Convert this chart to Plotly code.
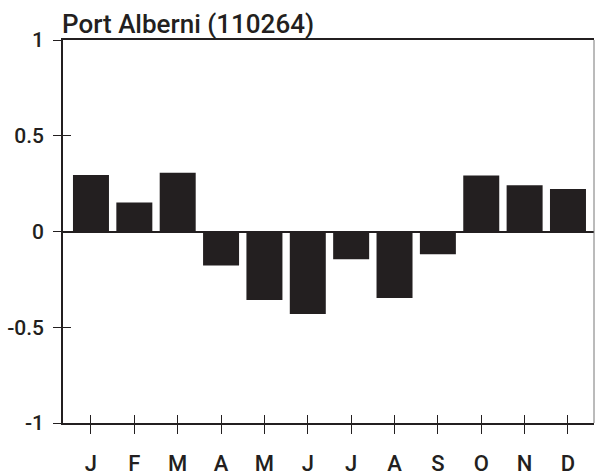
import plotly.graph_objects as go

months = ["J", "F", "M", "A", "M", "J", "J", "A", "S", "O", "N", "D"]
values = [0.295, 0.152, 0.307, -0.178, -0.358, -0.431, -0.145, -0.347, -0.119, 0.293, 0.241, 0.222]
y_ticks = [-1, -0.5, 0, 0.5, 1]
y_tick_labels = ["-1", "-0.5", "0", "0.5", "1"]
title = "Port Alberni (110264)"

x_idx = list(range(len(months)))
FONT = "Roboto"
INK = "#231f20"

fig = go.Figure()
fig.add_trace(go.Bar(
    x=x_idx, y=values, width=0.83,
    marker=dict(color=INK, line=dict(width=0)),
    showlegend=False,
))
# invisible trace for secondary axes (crossing ticks)
fig.add_trace(go.Scatter(x=x_idx, y=values, xaxis="x2", yaxis="y2", mode="markers",
                         marker=dict(opacity=0), showlegend=False, hoverinfo="skip"))

xr = [-0.645, 11.6]
yr = [-1, 1]
fig.update_layout(
    width=595, height=476,
    margin=dict(l=63, r=1, t=40, b=53),
    paper_bgcolor="white", plot_bgcolor="white",
    title=dict(text=title, x=62/595, xanchor="left", y=1 - 33/476, yanchor="bottom",
               font=dict(family=FONT, size=26, color=INK, weight=500)),
    xaxis=dict(range=xr, tickmode="array", tickvals=x_idx, ticktext=months,
               showline=True, linecolor=INK, linewidth=1.5, mirror=True,
               ticks="outside", ticklen=9, tickwidth=1.3, tickcolor=INK,
               showgrid=False, zeroline=False, automargin=False, ticklabelstandoff=11,
               tickfont=dict(family=FONT, size=22, color=INK, weight=500)),
    xaxis2=dict(range=xr, overlaying="x", side="bottom", tickmode="array",
                tickvals=x_idx, ticktext=[""] * 12, ticks="inside", ticklen=8,
                tickwidth=1.3, tickcolor=INK, showline=False, showgrid=False,
                zeroline=False, automargin=False, showticklabels=False),
    yaxis=dict(range=yr, tickmode="array", tickvals=y_ticks, ticktext=y_tick_labels,
               showline=True, linecolor=INK, linewidth=1.5, mirror=False,
               ticks="outside", ticklen=8, tickwidth=1.3, tickcolor=INK,
               showgrid=False, zeroline=True, zerolinecolor=INK, zerolinewidth=1.5,
               automargin=False, ticklabelstandoff=5,
               tickfont=dict(family=FONT, size=21, color=INK, weight=500)),
    yaxis2=dict(range=yr, overlaying="y", side="left", tickmode="array",
                tickvals=y_ticks, ticks="inside", ticklen=8, tickwidth=1.3,
                tickcolor=INK, showline=False, showgrid=False, zeroline=False,
                automargin=False, showticklabels=False),
    shapes=[dict(type="line", xref="paper", yref="paper", x0=1, x1=1, y0=0, y1=1,
                 line=dict(color="#777777", width=1))],
)

fig.write_html("out.html", config={"displayModeBar": False},
               post_script="document.body.style.margin='0';document.body.style.overflow='hidden';")
